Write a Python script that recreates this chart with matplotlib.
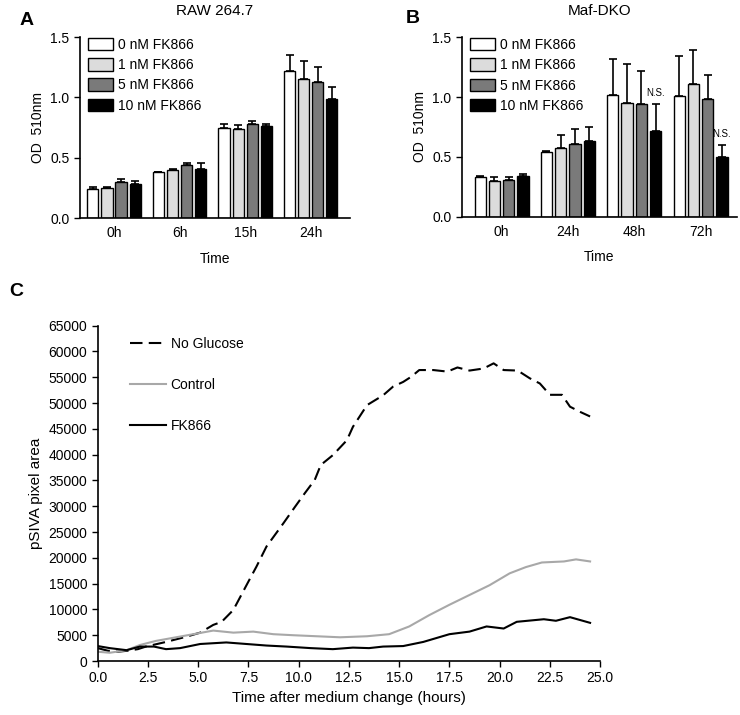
import numpy as np
import matplotlib
matplotlib.use("Agg")
from matplotlib import pyplot as plt

plt.rcParams['font.family'] = ['Liberation Sans', 'DejaVu Sans']

# panel A / B bar data
doses = ["0 nM FK866", "1 nM FK866", "5 nM FK866", "10 nM FK866"]
colors = ["white", "#dcdcdc", "#7a7a7a", "black"]

times_a = ["0h", "6h", "15h", "24h"]
mean_a = [[0.24, 0.38, 0.75, 1.22],
          [0.25, 0.40, 0.74, 1.15],
          [0.30, 0.44, 0.78, 1.13],
          [0.28, 0.41, 0.76, 0.99]]
err_a = [[0.015, 0.005, 0.03, 0.13],
         [0.01, 0.01, 0.03, 0.15],
         [0.025, 0.02, 0.025, 0.12],
         [0.025, 0.045, 0.02, 0.095]]

times_b = ["0h", "24h", "48h", "72h"]
mean_b = [[0.33, 0.54, 1.02, 1.01],
          [0.30, 0.57, 0.95, 1.11],
          [0.31, 0.61, 0.94, 0.98],
          [0.34, 0.63, 0.72, 0.50]]
err_b = [[0.01, 0.005, 0.30, 0.33],
         [0.03, 0.11, 0.33, 0.28],
         [0.025, 0.12, 0.28, 0.20],
         [0.015, 0.12, 0.22, 0.10]]
ns_b = [None, None, "N.S.", "N.S."]

# panel C time courses
t_nog = [0.0, 0.5, 1.0, 1.5, 2.0, 2.4, 3.4, 4.4, 5.1, 5.75, 6.17, 6.75, 7.5, 7.9, 8.4,
         9.24, 9.82, 10.3, 10.8, 11.1, 11.7, 12.4, 12.7, 13.4, 14.2, 14.7, 15.2, 15.6,
         16.0, 16.7, 17.4, 17.9, 18.5, 19.2, 19.7, 20.2, 20.9, 21.5, 22.0, 22.5, 23.1,
         23.5, 24.0, 24.5]
y_nog = [2500, 2000, 1800, 2000, 2300, 2800, 3700, 4700, 5500, 7000, 7600, 9900, 15400,
         18300, 22200, 26700, 29900, 32500, 35100, 38000, 39900, 42800, 45400, 49600,
         51500, 53200, 54100, 55100, 56400, 56400, 56100, 56900, 56300, 56700, 57700,
         56400, 56300, 54800, 53800, 51600, 51600, 49300, 48300, 47400]

t_ctl = [0.0, 0.6, 1.44, 2.1, 2.9, 3.9, 4.76, 5.75, 6.75, 7.74, 8.74, 9.73, 10.9, 12.06,
         13.4, 14.5, 15.5, 16.5, 17.5, 18.5, 19.5, 20.5, 21.3, 22.1, 23.2, 23.8, 24.5]
y_ctl = [1800, 1600, 2100, 3100, 3900, 4600, 5200, 5900, 5500, 5700, 5200, 5000, 4800,
         4600, 4800, 5200, 6700, 8900, 10900, 12800, 14700, 17000, 18200, 19100, 19300,
         19700, 19300]

t_fk = [0.0, 0.6, 1.44, 2.1, 2.8, 3.4, 4.1, 5.1, 6.4, 7.4, 8.4, 9.4, 10.6, 11.7, 12.7,
        13.5, 14.2, 15.2, 16.2, 17.5, 18.5, 19.35, 20.2, 20.85, 22.2, 22.8, 23.5, 24.5]
y_fk = [2900, 2500, 2100, 2800, 2800, 2300, 2500, 3300, 3600, 3300, 3000, 2800, 2500,
        2300, 2600, 2500, 2800, 2900, 3700, 5200, 5700, 6700, 6300, 7600, 8100, 7800,
        8500, 7400]

fig = plt.figure(figsize=(7.4, 7.15), dpi=100)


def bar_panel(ax, times, means, errs, title, ns=None):
    x = np.arange(len(times))
    w = 0.17
    for i in range(4):
        pos = x + (i - 1.5) * 0.215
        ax.bar(pos, means[i], w, color=colors[i], edgecolor="black", linewidth=1,
               label=doses[i], zorder=2)
        ax.errorbar(pos, means[i], yerr=[[0] * len(times), errs[i]], fmt="none",
                    ecolor="black", elinewidth=1.2, capsize=3, capthick=1.2, zorder=1)
        if ns is not None and i == 3:
            for j, s in enumerate(ns):
                if s:
                    ax.text(pos[j], means[i][j] + errs[i][j] + 0.05, s, ha="center",
                            va="bottom", fontsize=7)
    ax.set_ylim(0, 1.5)
    ax.set_yticks([0.0, 0.5, 1.0, 1.5])
    ax.set_yticklabels(["0.0", "0.5", "1.0", "1.5"])
    ax.set_xticks(x)
    ax.set_xticklabels(times)
    ax.tick_params(axis="x", length=0, labelsize=10, pad=6)
    ax.tick_params(axis="y", direction="out", length=4, width=1, labelsize=10)
    for s in ["top", "right"]:
        ax.spines[s].set_visible(False)
    ax.spines["left"].set_linewidth(1.2)
    ax.spines["bottom"].set_linewidth(1.2)
    ax.set_xlabel("Time", fontsize=10, labelpad=8)
    ax.set_ylabel("OD  510nm", fontsize=10)
    ax.set_title(title, fontsize=11, pad=16)
    ax.legend(loc="upper left", bbox_to_anchor=(-0.015, 1.065), frameon=False, fontsize=10,
              handlelength=1.8, handleheight=1.0, labelspacing=0.45, handletextpad=0.35)


ax_a = fig.add_axes([0.108, 0.695, 0.365, 0.253])
ax_a.set_xlim(-0.52, 3.6)
bar_panel(ax_a, times_a, mean_a, err_a, "RAW 264.7")

ax_b = fig.add_axes([0.624, 0.697, 0.372, 0.251])
ax_b.set_xlim(-0.6, 3.55)
bar_panel(ax_b, times_b, mean_b, err_b, "Maf-DKO", ns_b)

ax_c = fig.add_axes([0.132, 0.0755, 0.679, 0.469])
ax_c.plot(t_nog, y_nog, color="black", lw=1.5, dashes=(6, 3), label="No Glucose")
ax_c.plot(t_ctl, y_ctl, color="#a8a8a8", lw=1.5, label="Control")
ax_c.plot(t_fk, y_fk, color="black", lw=1.5, label="FK866")
ax_c.set_xlim(0, 25)
ax_c.set_ylim(0, 65000)
ax_c.set_xticks(np.arange(0, 25.1, 2.5))
ax_c.set_xticklabels(["%.1f" % v for v in np.arange(0, 25.1, 2.5)])
ax_c.set_yticks(np.arange(0, 65001, 5000))
ax_c.tick_params(direction="out", length=4, width=1, labelsize=10)
for s in ["top", "right"]:
    ax_c.spines[s].set_visible(False)
ax_c.spines["left"].set_linewidth(1.2)
ax_c.spines["bottom"].set_linewidth(1.2)
ax_c.set_xlabel("Time after medium change (hours)", fontsize=11)
ax_c.set_ylabel("pSIVA pixel area", fontsize=11)
ax_c.legend(loc="upper left", bbox_to_anchor=(0.04, 1.005), frameon=False, fontsize=10,
            handlelength=2.6, labelspacing=1.95, handletextpad=0.3)

fig.text(0.026, 0.972, "A", fontsize=14, fontweight="bold", va="center")
fig.text(0.548, 0.974, "B", fontsize=14, fontweight="bold", va="center")
fig.text(0.012, 0.592, "C", fontsize=14, fontweight="bold", va="center")

fig.savefig("out.png", dpi=100)
